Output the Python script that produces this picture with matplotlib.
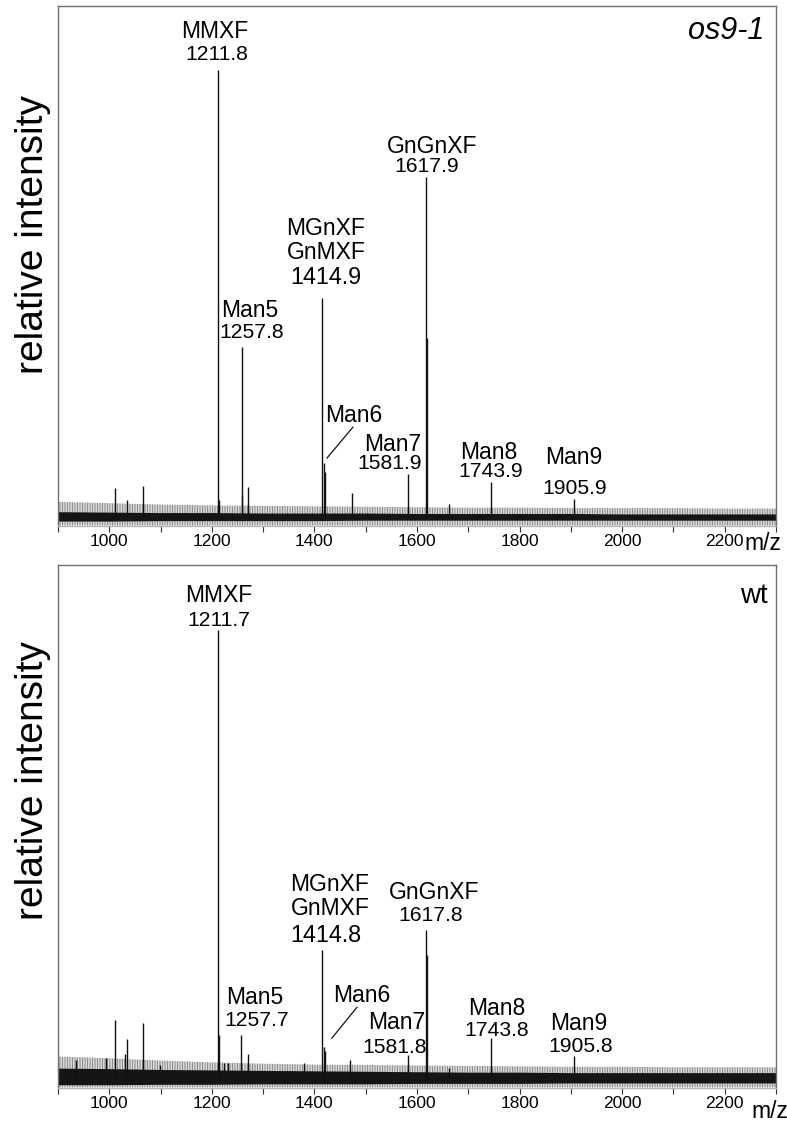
import matplotlib
matplotlib.use("Agg")
import matplotlib.pyplot as plt
from matplotlib.ticker import FixedLocator

plt.rcParams['font.family'] = ['Liberation Sans', 'DejaVu Sans']
plt.rcParams['hatch.linewidth'] = 0.7

# ---------------- data ----------------
# m/z axis ticks
tick_mz = [900, 1000, 1100, 1200, 1300, 1400, 1500, 1600, 1700, 1800, 1900, 2000, 2100, 2200, 2300]
tick_labels = ['', '1000', '', '1200', '', '1400', '', '1600', '', '1800', '', '2000', '', '2200', '']

# os9-1 spectrum: peak m/z and relative intensity (%)
os9_mz = [1011, 1034, 1065, 1211.8, 1213.5, 1257.8, 1259.5, 1270, 1414.9, 1419.5, 1421.0,
          1474, 1581.9, 1617.9, 1619.3, 1662, 1743.9, 1905.9]
os9_int = [6.5, 3.8, 7.0, 100, 3.8, 38, 5.0, 6.7, 49, 12, 10,
           5.4, 9.6, 76, 40, 3.0, 7.8, 4.0]

# wt spectrum
wt_mz = [935, 994, 1011, 1031, 1035, 1065, 1099, 1211.7, 1213.5, 1223, 1231, 1257.7, 1270,
         1379, 1414.8, 1419.2, 1420.6, 1470, 1581.8, 1617.8, 1619.2, 1662, 1743.8, 1905.8]
wt_int = [4.0, 4.5, 13, 5.4, 8.7, 12.3, 3.0, 100, 9.6, 3.4, 3.4, 9.6, 5.4,
          3.4, 28.6, 7.0, 6.0, 4.0, 5.1, 33, 27.5, 2.2, 9.0, 5.0]

# baseline noise envelopes (%), read every 100 m/z
noise_mz = [900, 1000, 1100, 1200, 1300, 1400, 1500, 1600, 1700, 1800, 1900, 2000, 2100, 2200, 2300]
os9_core_hi = [1.2, 1.1, 1.0, 1.0, 0.9, 0.9, 0.9, 0.8, 0.8, 0.8, 0.8, 0.7, 0.7, 0.7, 0.7]
os9_core_lo = [-0.9, -0.9, -0.8, -0.8, -0.8, -0.8, -0.7, -0.7, -0.7, -0.7, -0.7, -0.7, -0.7, -0.7, -0.7]
os9_fringe_hi = [3.4, 3.1, 2.8, 2.6, 2.5, 2.4, 2.3, 2.2, 2.1, 2.1, 2.0, 2.0, 2.0, 1.9, 1.9]
os9_fringe_lo = [-1.9] * 15
wt_core_hi = [2.2, 2.1, 1.9, 1.8, 1.7, 1.6, 1.5, 1.4, 1.3, 1.3, 1.2, 1.2, 1.2, 1.2, 1.2]
wt_core_lo = [-1.5, -1.5, -1.4, -1.4, -1.3, -1.3, -1.3, -1.2, -1.2, -1.2, -1.1, -1.1, -1.1, -1.1, -1.1]
wt_fringe_hi = [4.8, 4.4, 3.9, 3.5, 3.2, 3.0, 2.9, 2.8, 2.7, 2.6, 2.5, 2.5, 2.4, 2.4, 2.4]
wt_fringe_lo = [-2.1] * 15

# peak annotations
os9_names = ['MMXF', 'Man5', 'MGnXF\nGnMXF', 'Man6', 'Man7', 'GnGnXF', 'Man8', 'Man9']
os9_nums = ['1211.8', '1257.8', '1414.9', '', '1581.9', '1617.9', '1743.9', '1905.9']
wt_names = ['MMXF', 'Man5', 'MGnXF\nGnMXF', 'Man6', 'Man7', 'GnGnXF', 'Man8', 'Man9']
wt_nums = ['1211.7', '1257.7', '1414.8', '', '1581.8', '1617.8', '1743.8', '1905.8']

# ---------------- layout (text positions in data units) ----------------
os9_name_pos = [(1206, 108.7), (1274, 46.3), (1422.6, 61.9), (1477, 22.8), (1553, 16.3),
                (1629, 82.8), (1740, 14.5), (1906, 13.4)]
os9_num_pos = [(1210, 103.5), (1278, 41.2), (1422.6, 53.5), None, (1547, 11.9),
               (1619.5, 78.3), (1744, 10.3), (1908, 6.3)]
os9_man6_line = ((1475, 20.1), (1424.5, 13.2))

wt_name_pos = [(1214, 107.6), (1284, 17.9), (1430, 40.5), (1493, 18.5), (1561, 12.3),
               (1633, 41.3), (1756, 15.6), (1916, 12.1)]
wt_num_pos = [(1214, 102.2), (1288, 12.9), (1422.6, 31.7), None, (1557, 6.9),
              (1627, 36.2), (1756, 10.7), (1920, 7.1)]
wt_man6_line = ((1483, 15.8), (1434, 8.9))

W, H = 787, 1122
fig = plt.figure(figsize=(W / 100, H / 100), dpi=100)


def make_axes(rect, mz, inten, core_lo, core_hi, fr_lo, fr_hi, ylim,
              names, nums, name_pos, num_pos, man6_line, big_num_idx, tag, tag_italic,
              tag_pos, tag_size):
    ax = fig.add_axes(rect)
    ax.set_xlim(900, 2300)
    ax.set_ylim(*ylim)
    # noise band
    ax.fill_between(noise_mz, fr_lo, fr_hi, facecolor='none', edgecolor='#8a8a8a',
                    hatch='||||||||||', linewidth=0, zorder=1)
    ax.fill_between(noise_mz, core_lo, core_hi, color='#151515', linewidth=0, zorder=2)
    # peaks
    ax.vlines(mz, 0, inten, colors='#111111', linewidth=1.0, zorder=3)
    # annotations
    for i, (nm, nu) in enumerate(zip(names, nums)):
        nx, ny = name_pos[i]
        ax.text(nx, ny, nm, ha='center', va='center', fontsize=16.5,
                linespacing=1.05, zorder=5)
        if nu:
            ux, uy = num_pos[i]
            ax.text(ux, uy, nu, ha='center', va='center',
                    fontsize=16.8 if i == big_num_idx else 15.2, zorder=5)
    (x1, y1), (x2, y2) = man6_line
    ax.plot([x1, x2], [y1, y2], color='#111111', linewidth=0.9, zorder=4)
    ax.text(tag_pos[0], tag_pos[1], tag, ha='right', va='center', fontsize=tag_size,
            style='italic' if tag_italic else 'normal', zorder=5)
    # axes styling
    for s in ['left', 'top', 'right']:
        ax.spines[s].set_color('#707070')
        ax.spines[s].set_linewidth(1.0)
    ax.spines['bottom'].set_color('#b5b5b5')
    ax.spines['bottom'].set_linewidth(1.0)
    ax.set_yticks([])
    ax.xaxis.set_major_locator(FixedLocator(tick_mz))
    ax.set_xticklabels(tick_labels)
    ax.tick_params(axis='x', direction='out', length=4, width=0.8, color='#333333',
                   labelsize=12.5, pad=2)
    return ax


ax1 = make_axes([58 / W, 1 - 526 / H, 718 / W, 520 / H], os9_mz, os9_int,
                os9_core_lo, os9_core_hi, os9_fringe_lo, os9_fringe_hi, (-2.0, 114.3),
                os9_names, os9_nums, os9_name_pos, os9_num_pos, os9_man6_line, 2,
                'os9-1', True, (2277, 108.7), 22)

ax2 = make_axes([58 / W, 1 - 1088 / H, 718 / W, 523 / H], wt_mz, wt_int,
                wt_core_lo, wt_core_hi, wt_fringe_lo, wt_fringe_hi, (-2.23, 114.5),
                wt_names, wt_nums, wt_name_pos, wt_num_pos, wt_man6_line, 2,
                'wt', False, (2283, 107.6), 20)

fig.text(33 / W, 1 - 235 / H, 'relative intensity', rotation=90, ha='center', va='center',
         fontsize=28)
fig.text(33 / W, 1 - 780 / H, 'relative intensity', rotation=90, ha='center', va='center',
         fontsize=28)
fig.text(763 / W, 1 - 544 / H, 'm/z', ha='center', va='center', fontsize=16.5)
fig.text(770 / W, 1 - 1111 / H, 'm/z', ha='center', va='center', fontsize=16.5)

fig.savefig('out.png', dpi=100)
